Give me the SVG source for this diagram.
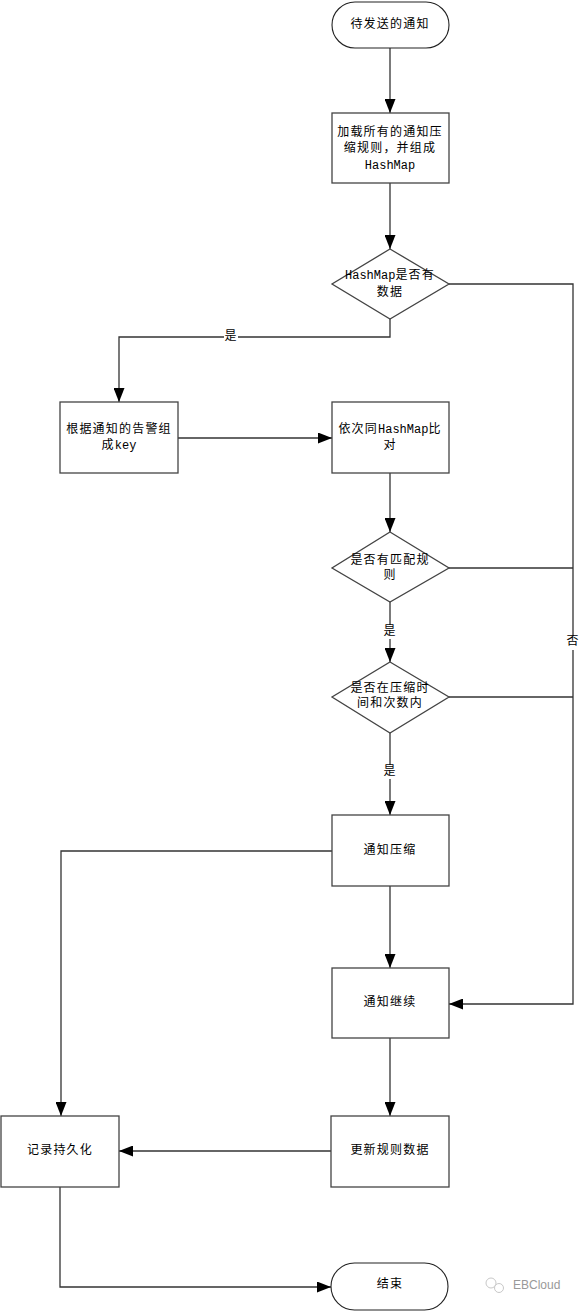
<svg xmlns="http://www.w3.org/2000/svg" width="587" height="1312" viewBox="0 0 587 1312">
<defs>
<marker id="arr" markerUnits="userSpaceOnUse" markerWidth="15" markerHeight="11" refX="14" refY="5.5" orient="auto">
<path d="M0,0 L14,5.5 L0,11 Z" fill="#000"/>
</marker>
<style>
.shape{fill:#fff;stroke:#444;stroke-width:1.3}
.term{fill:#fff;stroke:#222;stroke-width:1.1}
.conn{fill:none;stroke:#333;stroke-width:1.3}
.t{font-family:"Liberation Mono","Noto Sans CJK SC",monospace;font-size:12px;fill:#000;text-anchor:middle;dominant-baseline:central;letter-spacing:1.2px}
.lbl{fill:#fff;stroke:none}
.wm{font-family:"Liberation Sans","Noto Sans",sans-serif;font-size:12px;fill:#999;dominant-baseline:central}
</style>
</defs>
<rect width="587" height="1312" fill="#fff"/>

<g id="connectors">
<path class="conn" d="M390,48 V113" marker-end="url(#arr)"/>
<path class="conn" d="M390,183 V249" marker-end="url(#arr)"/>
<path class="conn" d="M390,319 V337 H119 V402" marker-end="url(#arr)"/>
<path class="conn" d="M449,284 H573 V1004 H449" marker-end="url(#arr)"/>
<path class="conn" d="M449,568 H573"/>
<path class="conn" d="M449,697 H573"/>
<path class="conn" d="M178,438 H332" marker-end="url(#arr)"/>
<path class="conn" d="M390,473 V532" marker-end="url(#arr)"/>
<path class="conn" d="M390,602 V662" marker-end="url(#arr)"/>
<path class="conn" d="M390,733 V815" marker-end="url(#arr)"/>
<path class="conn" d="M332,851 H61 V1116" marker-end="url(#arr)"/>
<path class="conn" d="M390,886 V968" marker-end="url(#arr)"/>
<path class="conn" d="M390,1038 V1116" marker-end="url(#arr)"/>
<path class="conn" d="M331,1151 H119" marker-end="url(#arr)"/>
<path class="conn" d="M60,1187 V1287 H331" marker-end="url(#arr)"/>
<rect class="lbl" x="224" y="330" width="14" height="14"/>
<text class="t" x="231" y="337">是</text>
<rect class="lbl" x="566" y="635" width="14" height="15"/>
<text class="t" x="573" y="642">否</text>
<rect class="lbl" x="383" y="625" width="14" height="14"/>
<text class="t" x="390" y="632">是</text>
<rect class="lbl" x="383" y="765" width="14" height="14"/>
<text class="t" x="390" y="772">是</text>
</g>

<g id="start">
<rect class="term" x="332" y="2" width="117" height="46" rx="23"/>
<text class="t" x="390" y="25">待发送的通知</text>
</g>

<g id="load">
<rect class="shape" x="332" y="113" width="117" height="70"/>
<text class="t" x="390" y="133">加载所有的通知压</text>
<text class="t" x="390" y="149">缩规则，并组成</text>
<text class="t" x="390" y="166" style="letter-spacing:0">HashMap</text>
</g>

<g id="hasData">
<polygon class="shape" points="390,249 449,284 390,319 332,284"/>
<text class="t" x="390" y="276"><tspan style="letter-spacing:0">HashMap</tspan>是否有</text>
<text class="t" x="390" y="293">数据</text>
</g>

<g id="makeKey">
<rect class="shape" x="60" y="402" width="118" height="71"/>
<text class="t" x="119" y="430">根据通知的告警组</text>
<text class="t" x="119" y="446">成<tspan style="letter-spacing:0">key</tspan></text>
</g>

<g id="compare">
<rect class="shape" x="332" y="402" width="117" height="71"/>
<text class="t" x="390" y="430">依次同<tspan style="letter-spacing:0">HashMap</tspan>比</text>
<text class="t" x="390" y="446">对</text>
</g>

<g id="matchRule">
<polygon class="shape" points="390,532 449,568 390,602 332,568"/>
<text class="t" x="390" y="561">是否有匹配规</text>
<text class="t" x="390" y="576">则</text>
</g>

<g id="inWindow">
<polygon class="shape" points="390,662 449,697 390,733 332,697"/>
<text class="t" x="390" y="689">是否在压缩时</text>
<text class="t" x="390" y="704">间和次数内</text>
</g>

<g id="compress">
<rect class="shape" x="332" y="815" width="117" height="71"/>
<text class="t" x="390" y="851">通知压缩</text>
</g>

<g id="continue">
<rect class="shape" x="332" y="968" width="117" height="70"/>
<text class="t" x="390" y="1003">通知继续</text>
</g>

<g id="persist">
<rect class="shape" x="1" y="1116" width="118" height="71"/>
<text class="t" x="60" y="1151">记录持久化</text>
</g>

<g id="updateRule">
<rect class="shape" x="331" y="1116" width="118" height="71"/>
<text class="t" x="390" y="1151">更新规则数据</text>
</g>

<g id="end">
<rect class="term" x="331" y="1263" width="117" height="47" rx="23.5"/>
<text class="t" x="390" y="1285">结束</text>
</g>

<g id="watermark">
<circle cx="491" cy="1283" r="5" fill="none" stroke="#c8c8c8" stroke-width="1"/>
<circle cx="499" cy="1288" r="4.5" fill="#fff" stroke="#c8c8c8" stroke-width="1"/>
<text class="wm" x="513" y="1285">EBCloud</text>
</g>
</svg>
